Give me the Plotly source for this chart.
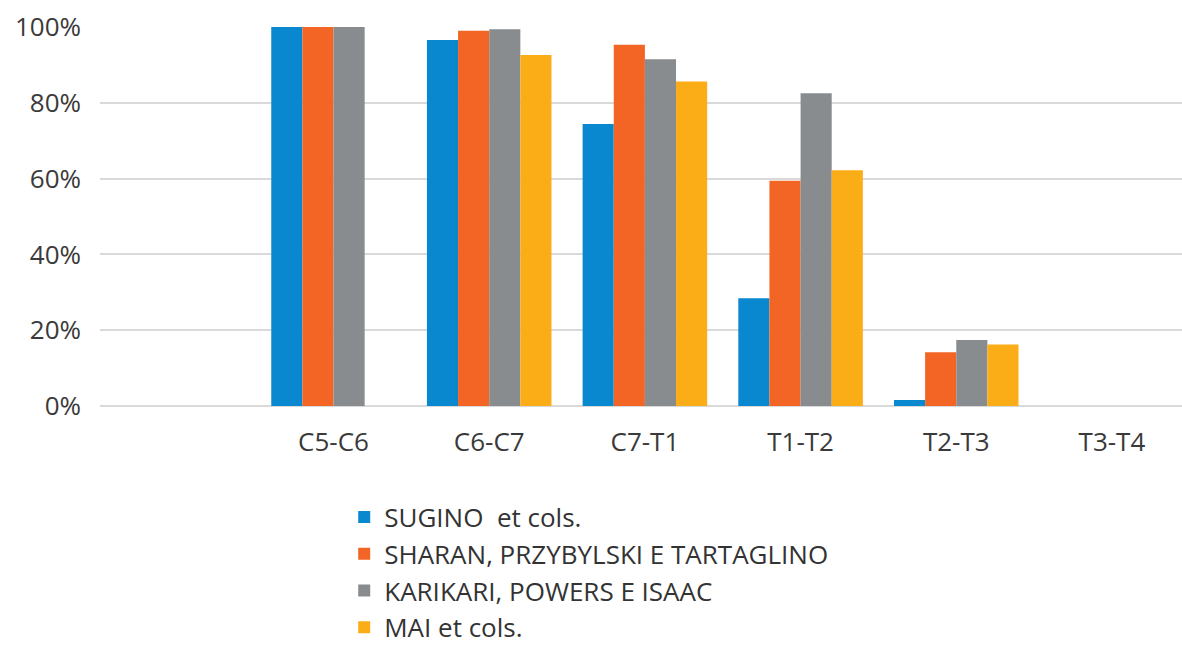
import plotly.graph_objects as go

categories = ["C5-C6", "C6-C7", "C7-T1", "T1-T2", "T2-T3", "T3-T4"]
series_names = [
    "SUGINO  et cols.",
    "SHARAN, PRZYBYLSKI E TARTAGLINO",
    "KARIKARI, POWERS E ISAAC",
    "MAI et cols.",
]
sugino = [100, 96.6, 74.4, 28.4, 1.6, 0]
sharan = [100, 99.0, 95.3, 59.4, 14.2, 0]
karikari = [100, 99.4, 91.5, 82.5, 17.4, 0]
mai = [None, 92.6, 85.6, 62.2, 16.2, 0]
colors = ["#0a88cf", "#f26524", "#898c8f", "#fbad18"]
y_ticks = [0, 20, 40, 60, 80, 100]
y_ticktext = [f"{v}%" for v in y_ticks]

fig = go.Figure()
for i, (name, vals) in enumerate(zip(series_names, [sugino, sharan, karikari, mai])):
    fig.add_trace(go.Bar(
        x=categories, y=vals, name=name, marker_color=colors[i],
        marker_line_width=0, legendgroup=f"g{i}",
    ))

font_family = "Open Sans, Noto Sans, sans-serif"
fig.update_layout(
    width=1182, height=645,
    margin=dict(l=100, r=0, t=27, b=239, autoexpand=False),
    paper_bgcolor="white", plot_bgcolor="white",
    barmode="group", bargap=0.2, bargroupgap=0,
    font=dict(family=font_family, color="#3a3a3a", size=24),
    showlegend=True,
    legend=dict(
        x=0.2257, y=-0.231, xanchor="left", yanchor="top",
        orientation="v", font=dict(size=26, color="#333333"),
        tracegroupgap=0, bgcolor="rgba(0,0,0,0)",
    ),
    xaxis=dict(
        range=[-1.5, 5.45], showgrid=False, showline=False, zeroline=False,
        automargin=False,
        ticks="", tickfont=dict(size=26, color="#3a3a3a"), ticklabelstandoff=18,
    ),
    yaxis=dict(
        range=[0, 100], tickvals=y_ticks, ticktext=y_ticktext,
        automargin=False,
        showgrid=True, gridcolor="#d9d9d9", gridwidth=2,
        zeroline=True, zerolinecolor="#d9d9d9", zerolinewidth=2,
        showline=False, ticks="", tickfont=dict(size=26, color="#3a3a3a"),
        ticklabelstandoff=18,
    ),
)

css = "margin:0;padding:0;overflow:hidden;"
fig.write_html(
    "out.html",
    config={"displayModeBar": False},
    post_script=(
        f"document.documentElement.style.cssText='{css}';"
        f"document.body.style.cssText='{css}';"
    ),
)
